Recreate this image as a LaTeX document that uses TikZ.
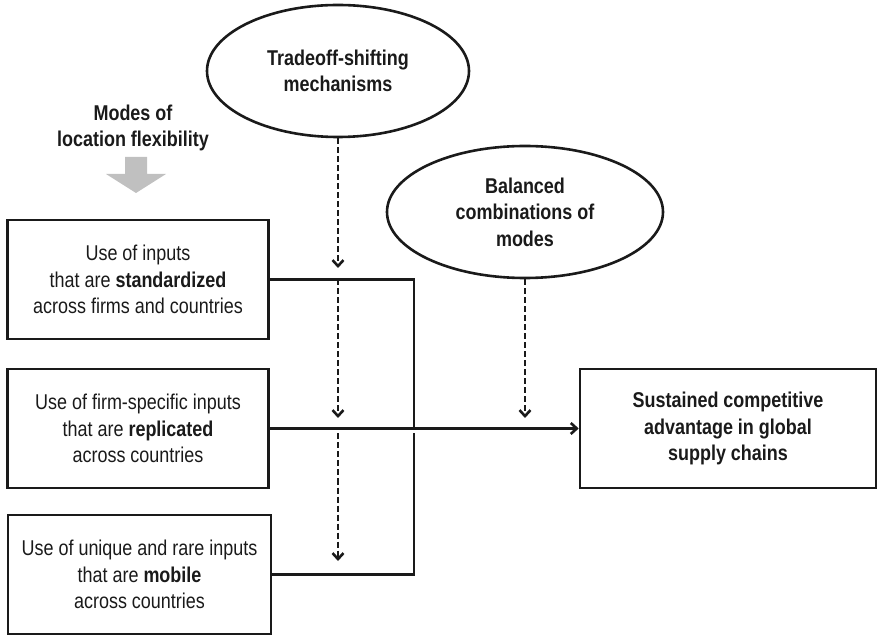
\documentclass[tikz,border=0pt]{standalone}
\usepackage{fontspec}
\setmainfont{Liberation Sans}[FakeStretch=0.84]
\usetikzlibrary{arrows.meta,shapes.geometric}
\definecolor{inkline}{HTML}{1A1A1A}
\definecolor{arrowgray}{HTML}{C0C0C0}
\tikzset{every node/.style={font=\fontsize{21.4}{26.5}\selectfont, text=inkline, align=center},
  modebox/.style={draw=inkline, line width=2.6pt, minimum width=261pt,
    minimum height=119pt, inner sep=0pt},
  driver/.style={draw=inkline, line width=2.6pt, ellipse, inner sep=0pt,
    minimum height=132pt, font=\fontsize{21.4}{26.5}\selectfont\bfseries},
  link/.style={draw=inkline, line width=2.6pt},
  effect/.style={link, dash pattern=on 6pt off 3pt, -{Straight Barb[length=6pt,width=11pt]}}}

\begin{document}
\begin{tikzpicture}[x=1pt, y=-1pt]
    \useasboundingbox (0,0) rectangle (879,636);
    % moderators
    \node[driver, minimum width=262pt] (tradeoff) at (338,71) {Tradeoff-shifting\\mechanisms};
    \node[driver, minimum width=276pt] (balance) at (525,212) {Balanced\\combinations of\\modes};
    % modes of location flexibility
    \node[font=\fontsize{21.4}{26.5}\selectfont\bfseries] (modes) at (133,128) {Modes of\\location flexibility};
    \fill[arrowgray] (125,157) -- (147,157) -- (147,174) -- (166,174) -- (136,193)
      -- (106,174) -- (125,174) -- cycle;
    \node[modebox] (standard) at (138,279.5) {Use of inputs\\that are \textbf{standardized}\\across firms and countries};
    \node[modebox] (replica) at (138,428.5) {Use of firm-specific inputs\\that are \textbf{replicated}\\across countries};
    \node[modebox, minimum width=263pt] (mobile) at (139.5,574.5) {Use of unique and rare inputs\\that are \textbf{mobile}\\across countries};
    \node[modebox, minimum width=296pt, font=\fontsize{21.4}{26.5}\selectfont\bfseries] (advantage) at (728,428.5)
      {Sustained competitive\\advantage in global\\supply chains};
    % connectors
    \coordinate (hub) at (414,428.5);
    \draw[link] (standard.east) -| (hub);
    \draw[link] (mobile.east) -| ([yshift=-5pt]hub);
    \draw[link, -{Straight Barb[length=6pt,width=11pt]}] (replica.east) -- (advantage.west);
    \coordinate (t1) at (338,268);
    \coordinate (t2a) at (338,279.5);
    \coordinate (t2b) at (338,418);
    \coordinate (t3a) at (338,433.5);
    \coordinate (t3b) at (338,561);
    \coordinate (b1) at (525,418);
    \draw[effect] (tradeoff.south) -- (t1);
    \draw[effect] (t2a) -- (t2b);
    \draw[effect] (t3a) -- (t3b);
    \draw[effect] (balance.south) -- (b1);
\end{tikzpicture}
\end{document}
